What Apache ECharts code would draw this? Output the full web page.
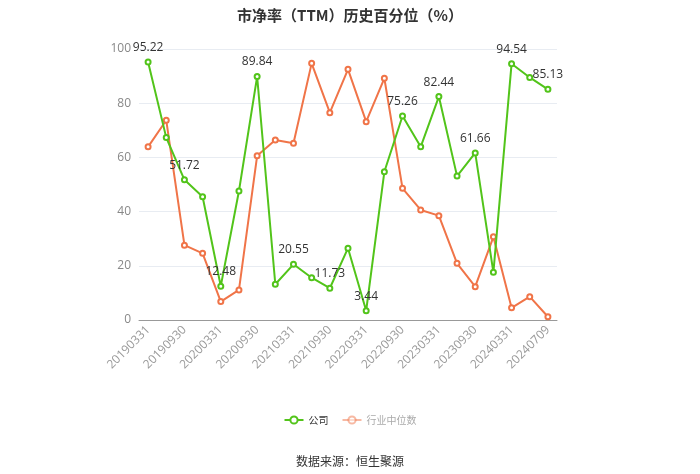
<!DOCTYPE html>
<html>
<head>
<meta charset="utf-8">
<script src="https://cdn.jsdelivr.net/npm/echarts@6/dist/echarts.min.js"></script>
<style>html,body{margin:0;padding:0;background:#fff;}#c{width:700px;height:474px;}</style>
</head>
<body>
<div id="c"></div>
<script>
var categories = ['20190331','20190630','20190930','20191231','20200331','20200630','20200930','20201231','20210331','20210630','20210930','20211231','20220331','20220630','20220930','20221231','20230331','20230630','20230930','20231231','20240331','20240630','20240709'];
var companyValues = [95.22,67.3,51.72,45.5,12.48,47.6,89.84,13.2,20.55,15.6,11.73,26.5,3.44,54.7,75.26,63.9,82.44,53.1,61.66,17.6,94.54,89.5,85.13];
var industryValues = [63.9,73.7,27.6,24.6,6.8,11.1,60.6,66.4,65.2,94.7,76.5,92.5,73.2,89.2,48.6,40.6,38.5,20.9,12.3,30.7,4.5,8.6,1.2];
var yTicks = [0,20,40,60,80,100];
var titleText = '市净率（TTM）历史百分位（%）';
var sourceText = '数据来源：恒生聚源';
var seriesNames = ['公司','行业中位数'];

var chart = echarts.init(document.getElementById('c'));
var green = '#52c41a', orange = '#f07448';
chart.setOption({
  animation: false,
  title: [{
    text: titleText, left: 'center', top: 3,
    textStyle: {fontSize: 15, fontWeight: 'bold', color: '#333', fontFamily: 'Noto Sans CJK SC'}
  }, {
    text: sourceText, left: 'center', top: 450,
    textStyle: {fontSize: 12, fontWeight: 'normal', color: '#333', fontFamily: 'Noto Sans CJK SC'}
  }],
  legend: {
    top: 410, left: 'center', itemWidth: 19, itemHeight: 9, itemGap: 13,
    textStyle: {fontSize: 10, color: '#333', fontFamily: 'Noto Sans CJK SC'},
    data: [
      {name: seriesNames[0]},
      {name: seriesNames[1], textStyle: {color: '#aaa'}, itemStyle: {opacity: 0.5}, lineStyle: {opacity: 0.5}}
    ]
  },
  grid: {left: 139, right: 143, top: 49, bottom: 154},
  xAxis: {
    type: 'category', data: categories, boundaryGap: true,
    axisLine: {lineStyle: {color: '#999'}},
    axisTick: {alignWithLabel: true, interval: 1, lineStyle: {color: '#999'}},
    axisLabel: {interval: 1, rotate: 45, color: '#999', fontSize: 12, fontFamily: 'Open Sans'}
  },
  yAxis: {
    type: 'value', min: yTicks[0], max: yTicks[yTicks.length-1], interval: 20,
    axisLine: {show: false}, axisTick: {show: false},
    axisLabel: {color: '#888', fontSize: 12, fontFamily: 'Open Sans'},
    splitLine: {lineStyle: {color: '#e8ecf2'}}
  },
  series: [{
    name: seriesNames[0], type: 'line', data: companyValues,
    symbol: 'emptyCircle', symbolSize: 5,
    lineStyle: {color: green, width: 2}, itemStyle: {color: green},
    label: {
      show: true, position: 'top', color: '#333', fontSize: 12, fontFamily: 'Open Sans',
      formatter: function (p) { return p.dataIndex % 2 === 0 ? p.value.toFixed(2) : ''; }
    },
    z: 3
  }, {
    name: seriesNames[1], type: 'line', data: industryValues,
    symbol: 'emptyCircle', symbolSize: 5,
    lineStyle: {color: orange, width: 2}, itemStyle: {color: orange},
    z: 2
  }]
});
</script>
</body>
</html>
